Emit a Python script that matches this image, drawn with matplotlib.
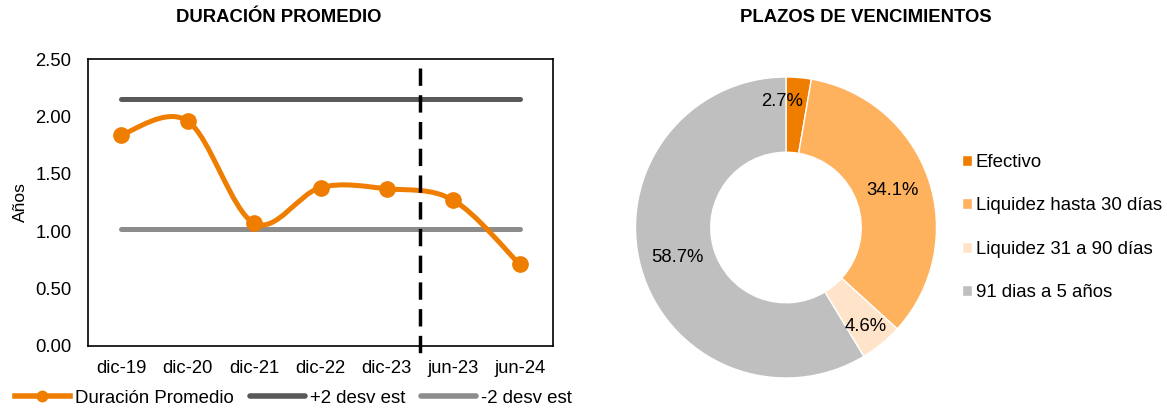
import numpy as np
import matplotlib.pyplot as plt
from matplotlib.path import Path
from matplotlib.patches import PathPatch
from matplotlib.lines import Line2D

plt.rcParams['font.family'] = ['Liberation Sans', 'DejaVu Sans']

# Datos
periodos = ["dic-19", "dic-20", "dic-21", "dic-22", "dic-23", "jun-23", "jun-24"]
duracion = [1.84, 1.96, 1.07, 1.38, 1.37, 1.27, 0.71]
mas_2_desv = [2.15] * 7
menos_2_desv = [1.02] * 7

plazos = ["Efectivo", "Liquidez hasta 30 días", "Liquidez 31 a 90 días", "91 dias a 5 años"]
porcentajes = [2.7, 34.1, 4.6, 58.7]

naranja = "#EE7D00"
gris_osc = "#595959"
gris_cla = "#8C8C8C"
colores_dona = ["#EE7D00", "#FFB25E", "#FFE4CA", "#BFBFBF"]


def curva_suave(x, y):
    # curva tipo Excel (Bezier por Catmull-Rom)
    p = np.column_stack([x, y]).astype(float)
    pts = np.vstack([p[0], p, p[-1]])
    verts = [p[0]]
    codes = [Path.MOVETO]
    for i in range(1, len(pts) - 2):
        c1 = pts[i] + (pts[i + 1] - pts[i - 1]) / 6
        c2 = pts[i + 1] - (pts[i + 2] - pts[i]) / 6
        verts += [c1, c2, pts[i + 1]]
        codes += [Path.CURVE4] * 3
    return Path(verts, codes)


fig = plt.figure(figsize=(11.67, 4.09), dpi=100)

# ---- Duración promedio ----
ax = fig.add_axes([88 / 1167, 63 / 409, 465 / 1167, 287 / 409])
x = np.arange(len(periodos))
ax.plot(x, mas_2_desv, color=gris_osc, lw=3.6, solid_capstyle="round")
ax.plot(x, menos_2_desv, color=gris_cla, lw=3.6, solid_capstyle="round")
ax.add_patch(PathPatch(curva_suave(x, duracion), fill=False, edgecolor=naranja,
                       lw=3.6, capstyle="round", zorder=3))
ax.plot(x, duracion, "o", color=naranja, ms=11, zorder=4)

ax.set_xlim(-0.5, len(periodos) - 0.5)
ax.set_ylim(0, 2.5)
ax.set_yticks(np.arange(0, 2.51, 0.5))
ax.set_yticklabels([f"{v:.2f}" for v in np.arange(0, 2.51, 0.5)], fontsize=13.3)
ax.set_xticks(x)
ax.set_xticklabels(periodos, fontsize=13.3)
ax.tick_params(axis="y", length=0, pad=12)
ax.tick_params(axis="x", length=0, pad=10)
ax.set_ylabel("Años", fontsize=12.5, labelpad=5)
for s in ax.spines.values():
    s.set_linewidth(1.2)

# línea vertical de corte
ax.plot([4.5, 4.5], [2.42, -0.1], color="black", lw=2.5, dashes=(5, 2.7),
        clip_on=False, zorder=5)

fig.text(278.5 / 1167, 1 - 18 / 409, "DURACIÓN PROMEDIO", ha="center", va="center",
         fontsize=13.3, fontweight="bold")

handles = [
    Line2D([], [], color=naranja, lw=4, marker="o", ms=7.5),
    Line2D([], [], color=gris_osc, lw=4, solid_capstyle="round"),
    Line2D([], [], color=gris_cla, lw=4, solid_capstyle="round"),
]
fig.legend(handles, ["Duración Promedio", "+2 desv est", "-2 desv est"],
           loc="center left", bbox_to_anchor=(15 / 1167, 1 - 398 / 409), ncol=3,
           frameon=False, fontsize=13.4, handlelength=2.95, handletextpad=0.27,
           columnspacing=0.86, numpoints=1, borderaxespad=0, borderpad=0)

# ---- Plazos de vencimientos ----
ax2 = fig.add_axes([635.5 / 1167, 31 / 409, 301 / 1167, 301 / 409])
cunas, textos, autot = ax2.pie(porcentajes, colors=colores_dona, startangle=90,
                               counterclock=False, radius=1,
                               wedgeprops=dict(width=0.5, edgecolor="white", linewidth=1),
                               autopct="%.1f%%", pctdistance=0.75,
                               textprops=dict(fontsize=13.3, color="black"))
for t, v in zip(autot, porcentajes):
    t.set_text(f"{v:.1f}%")
# ajuste de etiquetas pequeñas
autot[0].set_position((-0.027, 0.834))
autot[2].set_position((0.527, -0.657))
ax2.set_xlim(-1, 1)
ax2.set_ylim(-1, 1)
ax2.set_aspect("equal")

fig.text(866 / 1167, 1 - 18 / 409, "PLAZOS DE VENCIMIENTOS", ha="center", va="center",
         fontsize=13.3, fontweight="bold")

fig.legend(cunas, plazos, loc="upper left", bbox_to_anchor=(962 / 1167, 1 - 154 / 409),
           frameon=False, fontsize=13.4, handlelength=0.55, handleheight=0.55,
           handletextpad=0.2, labelspacing=1.42, borderaxespad=0, borderpad=0)

fig.savefig("out.png", dpi=100)
